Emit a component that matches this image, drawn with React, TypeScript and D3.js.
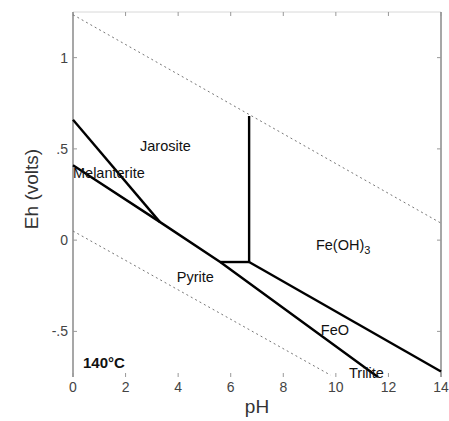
import React, { useEffect, useRef } from 'react';
import * as d3 from 'd3';

// pH / Eh axis ticks
const xTicks = [0, 2, 4, 6, 8, 10, 12, 14];
const yTicks = [-0.5, 0, 0.5, 1];
const yTickLabels = ['-.5', '0', '.5', '1'];

// stability field boundaries [pH, Eh]
const jarositeMelanterite: [number, number][] = [[0, 0.66], [3.3, 0.1]];
const pyriteBoundary: [number, number][] = [[0, 0.41], [3.3, 0.1], [5.6, -0.12], [11.6, -0.75]];
const pyriteStep: [number, number][] = [[5.6, -0.12], [6.7, -0.12]];
const jarositeFeOH3: [number, number][] = [[6.7, -0.12], [6.7, 0.68]];
const feohFeo: [number, number][] = [[6.7, -0.12], [14, -0.72]];

// water stability limits
const waterUpper: [number, number][] = [[0, 1.235], [14, 0.093]];
const waterLower: [number, number][] = [[0, 0.05], [9.8, -0.74]];

// field labels
const fieldLabels = [
  { text: 'Jarosite', ph: 2.55, eh: 0.49 },
  { text: 'Melanterite', ph: 0, eh: 0.34 },
  { text: 'Pyrite', ph: 3.95, eh: -0.23 },
  { text: 'FeO', ph: 9.43, eh: -0.52 },
  { text: 'Trilite', ph: 10.5, eh: -0.755 },
];

const App = () => {
  const ref = useRef<SVGSVGElement>(null);

  useEffect(() => {
    const svg = d3.select(ref.current);
    svg.selectAll('*').remove();

    const x = d3.scaleLinear().domain([0, 14]).range([73, 441]);
    const y = d3.scaleLinear().domain([-0.75, 1.25]).range([377, 12]);
    const line = d3.line<[number, number]>().x((d) => x(d[0])).y((d) => y(d[1]));

    // frame
    const axisColor = '#8a8a8a';
    svg.append('line').attr('x1', x(0)).attr('x2', x(14)).attr('y1', y(1.25)).attr('y2', y(1.25))
      .attr('stroke', '#d8d8d8').attr('stroke-width', 1);
    svg.append('line').attr('x1', x(0)).attr('x2', x(0)).attr('y1', y(1.25)).attr('y2', y(-0.75))
      .attr('stroke', axisColor).attr('stroke-width', 1.5);
    svg.append('line').attr('x1', x(14)).attr('x2', x(14)).attr('y1', y(1.25)).attr('y2', y(-0.75))
      .attr('stroke', axisColor).attr('stroke-width', 1.5);

    // ticks
    const g = svg.append('g').attr('stroke', '#999').attr('stroke-width', 1);
    xTicks.forEach((t) => {
      g.append('line').attr('x1', x(t)).attr('x2', x(t)).attr('y1', y(-0.75)).attr('y2', y(-0.75) - 4);
      g.append('line').attr('x1', x(t)).attr('x2', x(t)).attr('y1', y(1.25)).attr('y2', y(1.25) + 4);
    });
    yTicks.forEach((t) => {
      g.append('line').attr('x1', x(0)).attr('x2', x(0) + 4).attr('y1', y(t)).attr('y2', y(t));
      g.append('line').attr('x1', x(14)).attr('x2', x(14) - 4).attr('y1', y(t)).attr('y2', y(t));
    });

    const font = 'Liberation Sans, Arial, sans-serif';
    svg.append('g').selectAll('text').data(xTicks).enter().append('text')
      .attr('x', (d) => x(d)).attr('y', 392).attr('text-anchor', 'middle')
      .attr('font-family', font).attr('font-size', 14).attr('fill', '#444')
      .text((d) => String(d));
    svg.append('g').selectAll('text').data(yTicks).enter().append('text')
      .attr('x', 68).attr('y', (d) => y(d) + 5).attr('text-anchor', 'end')
      .attr('font-family', font).attr('font-size', 14).attr('fill', '#444')
      .text((d, i) => yTickLabels[i]);

    // axis titles
    svg.append('text').attr('x', 257).attr('y', 413).attr('text-anchor', 'middle')
      .attr('font-family', font).attr('font-size', 19).attr('fill', '#333').text('pH');
    svg.append('text').attr('transform', 'translate(38,189) rotate(-90)').attr('text-anchor', 'middle')
      .attr('font-family', font).attr('font-size', 19).attr('fill', '#333').text('Eh (volts)');

    // water limits
    [waterUpper, waterLower].forEach((d) => {
      svg.append('path').attr('d', line(d)).attr('fill', 'none')
        .attr('stroke', '#777').attr('stroke-width', 1).attr('stroke-dasharray', '2,3');
    });

    // boundaries
    [jarositeMelanterite, pyriteBoundary, pyriteStep, jarositeFeOH3, feohFeo].forEach((d) => {
      svg.append('path').attr('d', line(d)).attr('fill', 'none')
        .attr('stroke', '#000').attr('stroke-width', 2.4).attr('stroke-linejoin', 'round');
    });

    // field labels
    fieldLabels.forEach((l) => {
      svg.append('text').attr('x', x(l.ph)).attr('y', y(l.eh))
        .attr('font-family', font).attr('font-size', 14.5).attr('fill', '#111').text(l.text);
    });
    const fe = svg.append('text').attr('x', x(9.24)).attr('y', y(-0.055))
      .attr('font-family', font).attr('font-size', 14.5).attr('fill', '#111');
    fe.append('tspan').text('Fe(OH)');
    fe.append('tspan').attr('font-size', 11).attr('dy', 4).text('3');

    svg.append('text').attr('x', 83).attr('y', 368)
      .attr('font-family', font).attr('font-size', 15).attr('font-weight', 'bold').attr('fill', '#111')
      .text('140°C');
  }, []);

  return (
    <svg ref={ref} width={449} height={421}
      style={{ position: 'absolute', left: 0, top: 0, background: '#fff' }} />
  );
};

export default App;
